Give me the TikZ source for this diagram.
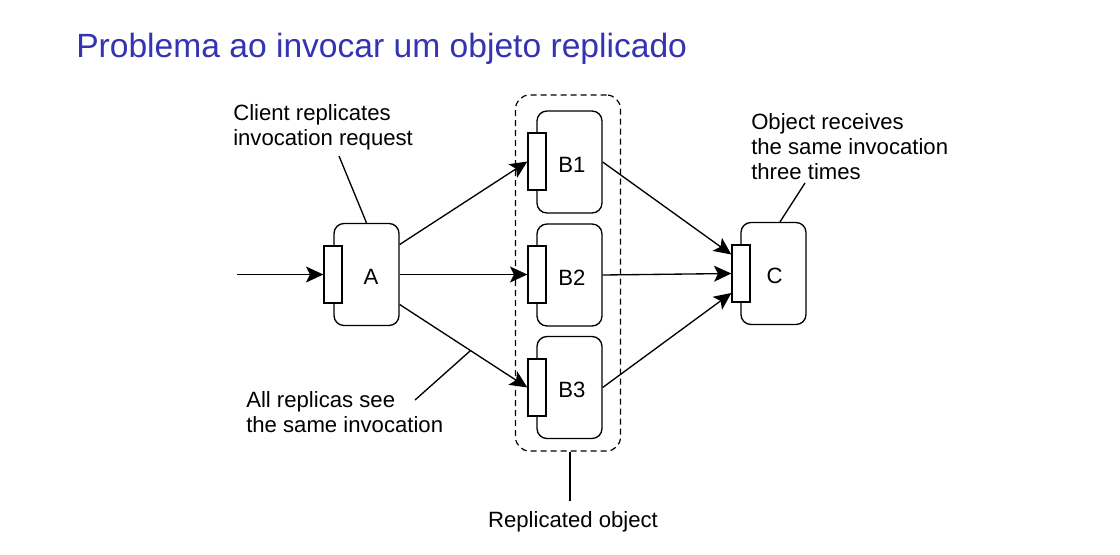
\documentclass[tikz,border=0pt]{standalone}
\usepackage{fontspec}
\setmainfont{Liberation Sans}
\usetikzlibrary{arrows.meta,calc}
\definecolor{titleblue}{RGB}{51,51,179}
\begin{document}
\begin{tikzpicture}[x=0.75pt,y=-0.75pt,
  objbox/.style={draw,line width=1pt,rounded corners=7.5pt,minimum width=48.75pt,minimum height=76.5pt,inner sep=0pt},
  port/.style={draw,fill=white,line width=1pt,minimum width=13.5pt,minimum height=42.75pt,inner sep=0pt},
  groupbox/.style={draw,dash pattern=on 4.5pt off 3pt,line width=0.9pt,rounded corners=10.5pt,minimum width=78.75pt,minimum height=267pt,inner sep=0pt},
  arr/.style={line width=1pt,-{Stealth[length=13pt,width=12pt,inset=3pt]}},
  lead/.style={line width=1pt},
  txt/.style={font=\fontsize{16.6}{18.75}\selectfont,align=left,inner sep=0pt,anchor=north west},
  lbl/.style={font=\fontsize{16.6}{18.75}\selectfont,inner sep=0pt}
]
\useasboundingbox (0,0) rectangle (1120,554);

% title
\node[anchor=north west,inner sep=0pt,text=titleblue,font=\fontsize{25.2}{29}\selectfont] (title) at (76,33) {Problema ao invocar um objeto replicado};

% replica group
\node[groupbox] (group) at (568,273) {};

% objects
\node[objbox] (A) at (366.5,274.5) {};
\node[objbox] (B1) at (569.5,162) {};
\node[objbox] (B2) at (569.5,275) {};
\node[objbox] (B3) at (569.5,387.5) {};
\node[objbox] (C) at (773.5,273.5) {};

% interface ports
\node[port] (A-p) at (333,274.5) {};
\node[port] (B1-p) at (537,161.5) {};
\node[port] (B2-p) at (537,274.5) {};
\node[port] (B3-p) at (537,387.5) {};
\node[port] (C-p) at (741,273.5) {};

% object names
\node[lbl] (A-l) at (371,277) {A};
\node[lbl] (B1-l) at (572,164.5) {B1};
\node[lbl] (B2-l) at (572,277.5) {B2};
\node[lbl] (B3-l) at (572,390) {B3};
\node[lbl] (C-l) at (774.5,276) {C};

% invocations
\coordinate (in) at (237,274.5);
\draw[arr] (in) -- (A-p.west);
\coordinate (a1) at ($(A.east)+(0,-30)$);
\coordinate (a3) at ($(A.east)+(0,30)$);
\draw[arr] (a1) -- (B1-p.west);
\draw[arr] (A.east) -- (B2-p.west);
\draw[arr] (a3) -- (B3-p.west) coordinate[pos=0.555] (m);
\draw[arr] (B1.east) -- ($(C-p.west)+(0,-19)$);
\draw[arr] (B2.east) -- (C-p.west);
\draw[arr] (B3.east) -- ($(C-p.west)+(0,19.5)$);

% annotations
\node[txt] (t-client) at (233,104) {Client replicates\\invocation request};
\coordinate (cl) at (339,156);
\draw[lead] (cl) -- (A.north);

\node[txt] (t-object) at (751,113) {Object receives\\the same invocation\\three times};
\coordinate (ol) at (805,183);
\draw[lead] (ol) -- ($(C.north)+(6.5,0)$);

\node[txt] (t-all) at (246,391) {All replicas see\\the same invocation};
\coordinate (al) at (415,400);
\draw[lead] (al) -- (m);

\node[lbl,anchor=north] (t-repl) at (573,511) {Replicated object};
\coordinate (rl) at (570,501);
\draw[lead] ($(group.south)+(2,0)$) -- (rl);
\end{tikzpicture}
\end{document}
